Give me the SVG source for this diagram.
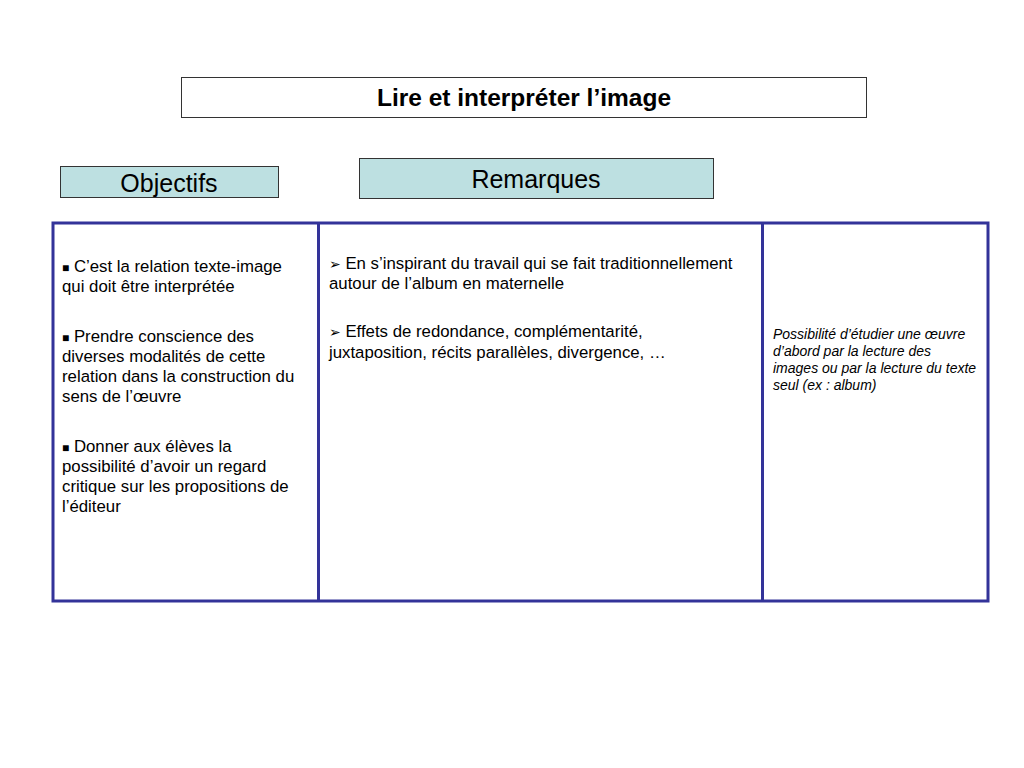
<svg xmlns="http://www.w3.org/2000/svg" width="1024" height="768" viewBox="0 0 1024 768">
<style>
.t{font-family:"Liberation Sans",Arial,sans-serif;fill:#000}
.hdr{fill:#bde0e1;stroke:#333;stroke-width:1}
.c1{font-size:16.8px}
.c3{font-size:14px;font-style:italic}
</style>
<rect width="1024" height="768" fill="#fff"/>
<g id="title">
<rect x="181.5" y="77.5" width="685" height="40" fill="#fff" stroke="#333" stroke-width="1"/>
<text class="t" x="524" y="106" font-size="24.5" font-weight="bold" text-anchor="middle">Lire et interpréter l’image</text>
</g>
<g id="objectifs">
<rect class="hdr" x="60.5" y="166.5" width="218" height="31"/>
<text class="t" x="169" y="192" font-size="25" text-anchor="middle">Objectifs</text>
</g>
<g id="remarques">
<rect class="hdr" x="359.5" y="158.5" width="354" height="40"/>
<text class="t" x="536" y="188" font-size="25" text-anchor="middle">Remarques</text>
</g>
<g id="table">
<rect x="53" y="223" width="935" height="378" fill="#fff" stroke="#333399" stroke-width="3"/>
<line x1="318.5" y1="223" x2="318.5" y2="601" stroke="#333399" stroke-width="3"/>
<line x1="762.5" y1="223" x2="762.5" y2="601" stroke="#333399" stroke-width="3"/>
</g>
<g id="col1" class="t c1">
<text x="62" y="272"><tspan font-size="12">■</tspan> C’est la relation texte-image</text>
<text x="62" y="292">qui doit être interprétée</text>
<text x="62" y="342"><tspan font-size="12">■</tspan> Prendre conscience des</text>
<text x="62" y="362">diverses modalités de cette</text>
<text x="62" y="382">relation dans la construction du</text>
<text x="62" y="402">sens de l’œuvre</text>
<text x="62" y="452"><tspan font-size="12">■</tspan> Donner aux élèves la</text>
<text x="62" y="472">possibilité d’avoir un regard</text>
<text x="62" y="492">critique sur les propositions de</text>
<text x="62" y="512">l’éditeur</text>
</g>
<g id="col2" class="t c1">
<text x="329" y="269"><tspan font-family="DejaVu Sans" font-size="14">➢</tspan> En s’inspirant du travail qui se fait traditionnellement</text>
<text x="329" y="289">autour de l’album en maternelle</text>
<text x="329" y="337"><tspan font-family="DejaVu Sans" font-size="14">➢</tspan> Effets de redondance, complémentarité,</text>
<text x="329" y="358">juxtaposition, récits parallèles, divergence, …</text>
</g>
<g id="col3" class="t c3">
<text x="773" y="339">Possibilité d’étudier une œuvre</text>
<text x="773" y="356">d’abord par la lecture des</text>
<text x="773" y="373">images ou par la lecture du texte</text>
<text x="773" y="390">seul (ex : album)</text>
</g>
</svg>
